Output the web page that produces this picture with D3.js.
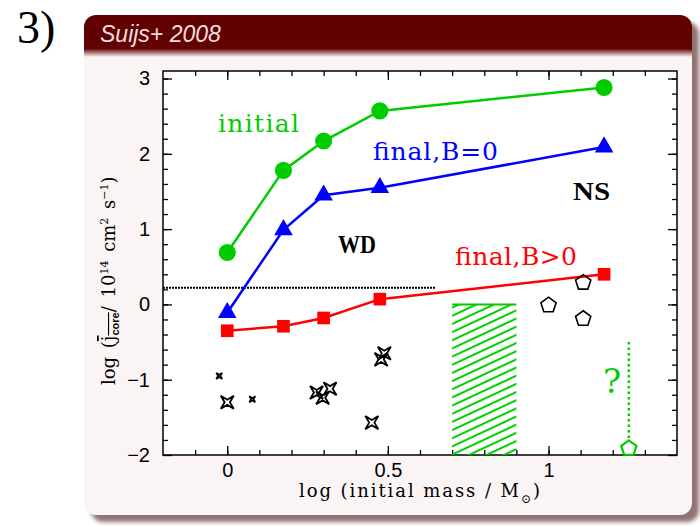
<!DOCTYPE html>
<html>
<head>
<meta charset="utf-8">
<script src="https://cdn.jsdelivr.net/npm/d3@7/dist/d3.min.js"></script>
<style>
  html, body { margin: 0; padding: 0; background: #fff; }
  svg { display: block; }
</style>
</head>
<body>
<div id="chart"></div>
<script>
///// DATA
const MASS       = [0, 0.175, 0.30, 0.475, 1.173];     // log initial mass
const J_INITIAL  = [0.69, 1.78, 2.17, 2.57, 2.88];     // green circles
const J_FINAL_B0 = [-0.11, 0.99, 1.45, 1.55, 2.09];    // blue triangles
const J_FINAL_B  = [-0.35, -0.29, -0.18, 0.07, 0.40];  // red squares

// white dwarf spins (4-point stars)
const WD_BIG   = [[0, -1.30], [0.278, -1.17], [0.297, -1.24], [0.32, -1.12],
                  [0.45, -1.57], [0.479, -0.73], [0.489, -0.65]];
const WD_SMALL = [[-0.025, -0.95], [0.078, -1.26]];

// neutron star pulsars (pentagons)
const NS_PTS   = [[1.0, 0.0], [1.108, -0.18], [1.108, 0.30]];
const NS_GREEN = [1.25, -1.90];
const NS_UPPER = -0.50;              // top of the dotted "?" line

const HATCH_X  = [0.70, 0.90];       // hatched range, y from bottom to 0
const HATCH_Y  = [-2, 0];
const DOTTED   = { y: 0.22, x: [-0.2, 0.65] };

const X_TICKS = [0, 0.5, 1];
const Y_TICKS = [-2, -1, 0, 1, 2, 3];

///// LAYOUT
const W = 700, H = 527;
const box = { l: 163, r: 677, t: 71, b: 455 };
const GREEN = '#00cc00', BLUE = '#0000ff', RED = '#ff0000';

const svg = d3.select('#chart').append('svg')
  .attr('width', W).attr('height', H)
  .attr('viewBox', [0, 0, W, H]);

const defs = svg.append('defs');
defs.append('filter').attr('id', 'blur')
  .attr('x', '-5%').attr('y', '-5%').attr('width', '110%').attr('height', '110%')
  .append('feGaussianBlur').attr('stdDeviation', 2);

const hg = defs.append('linearGradient').attr('id', 'hdr')
  .attr('x1', 0).attr('x2', 0).attr('y1', 0).attr('y2', 1);
hg.append('stop').attr('offset', '0%').attr('stop-color', '#600000');
hg.append('stop').attr('offset', '80%').attr('stop-color', '#620202');
hg.append('stop').attr('offset', '100%').attr('stop-color', '#fbf4f4');

defs.append('clipPath').attr('id', 'panelClip')
  .append('rect').attr('x', 84).attr('y', 15).attr('width', 608).attr('height', 500).attr('rx', 12);

const pat = defs.append('pattern').attr('id', 'hatch')
  .attr('patternUnits', 'userSpaceOnUse')
  .attr('width', 20).attr('height', 7.4)
  .attr('patternTransform', 'rotate(-25)');
pat.append('line').attr('x1', 0).attr('x2', 20).attr('y1', 3.7).attr('y2', 3.7)
  .attr('stroke', GREEN).attr('stroke-width', 2);

///// PANEL
svg.append('rect').attr('x', 91).attr('y', 22).attr('width', 608).attr('height', 500)
  .attr('rx', 12).attr('fill', '#7d5a5a').attr('opacity', 0.85).attr('filter', 'url(#blur)');
svg.append('rect').attr('x', 84).attr('y', 15).attr('width', 608).attr('height', 500)
  .attr('rx', 12).attr('fill', '#fbf4f4');
svg.append('rect').attr('x', 84).attr('y', 15).attr('width', 608).attr('height', 42)
  .attr('fill', 'url(#hdr)').attr('clip-path', 'url(#panelClip)');

svg.append('text').attr('x', 100).attr('y', 42)
  .attr('font-family', 'Liberation Sans, Arial, sans-serif')
  .attr('font-style', 'italic').attr('font-size', 23)
  .attr('fill', '#f3dede').text('Suijs+ 2008');

svg.append('text').attr('x', 17).attr('y', 43)
  .attr('font-family', 'Liberation Serif, Times New Roman, serif')
  .attr('font-size', 46).attr('fill', '#000').text('3)');

///// SCALES
const x = d3.scaleLinear([-0.2, 1.4], [box.l, box.r]);
const y = d3.scaleLinear([-2, 3.1], [box.b, box.t]);

svg.append('rect').attr('x', box.l).attr('y', box.t)
  .attr('width', box.r - box.l).attr('height', box.b - box.t).attr('fill', '#fff');

///// AXES (ticks inward on all sides)
const minorX = d3.range(-0.1, 1.35, 0.1).map(v => +v.toFixed(2));
const minorY = d3.range(-1.8, 3.05, 0.2).map(v => +v.toFixed(2));
const tickFont = 'Liberation Sans, Arial, sans-serif';

function axis (gen, tf, vals, size, labels) {
  const a = gen.tickValues(vals).tickSize(-size)
    .tickFormat(labels ? labels : () => '');
  const g = svg.append('g').attr('transform', tf).call(a);
  g.select('.domain').remove();
  g.selectAll('line').attr('stroke', '#000').attr('stroke-width', 1.3);
  return g;
}

const gx = axis(d3.axisBottom(x).tickPadding(8), `translate(0,${box.b})`, X_TICKS, 9, d => String(d));
axis(d3.axisBottom(x), `translate(0,${box.b})`, minorX, 5);
axis(d3.axisTop(x), `translate(0,${box.t})`, X_TICKS, 9);
axis(d3.axisTop(x), `translate(0,${box.t})`, minorX, 5);

const gy = axis(d3.axisLeft(y).tickPadding(13), `translate(${box.l},0)`, Y_TICKS, 9,
  d => d < 0 ? '\u2212' + Math.abs(d) : String(d));
axis(d3.axisLeft(y), `translate(${box.l},0)`, minorY, 5);
axis(d3.axisRight(y), `translate(${box.r},0)`, Y_TICKS, 9);
axis(d3.axisRight(y), `translate(${box.r},0)`, minorY, 5);

[gx, gy].forEach(g => g.selectAll('text')
  .attr('font-family', tickFont).attr('font-size', 20).attr('fill', '#000'));

svg.append('rect').attr('x', box.l).attr('y', box.t)
  .attr('width', box.r - box.l).attr('height', box.b - box.t)
  .attr('fill', 'none').attr('stroke', '#000').attr('stroke-width', 1.5);

///// AXIS TITLES
const serif = 'DejaVu Serif, serif';
const xt = svg.append('text').attr('x', 299).attr('y', 497)
  .attr('font-family', serif).attr('font-size', 18).attr('fill', '#000')
  .attr('textLength', 241).attr('lengthAdjust', 'spacing');
xt.append('tspan').text('log (initial mass / M');
xt.append('tspan').attr('font-size', 12).attr('dy', 6).text('\u2299');
xt.append('tspan').attr('dy', -6).text(')');

const yt = svg.append('text')
  .attr('transform', 'translate(115,385) rotate(-90)')
  .attr('font-family', serif).attr('font-size', 18).attr('fill', '#000')
  .attr('word-spacing', 3);
yt.append('tspan').text('log (');
yt.append('tspan').style('text-decoration', 'overline').text('j');
yt.append('tspan').attr('font-family', 'Liberation Sans, Arial, sans-serif')
  .attr('font-weight', 'bold').attr('font-size', 11).attr('dy', 4)
  .style('text-decoration', 'overline').text('core');
yt.append('tspan').attr('dy', -4).text('/ 10');
yt.append('tspan').attr('font-size', 11).attr('dy', -7).text('14');
yt.append('tspan').attr('dy', 7).text(' cm');
yt.append('tspan').attr('font-size', 11).attr('dy', -7).text('2');
yt.append('tspan').attr('dy', 7).text(' s');
yt.append('tspan').attr('font-size', 11).attr('dy', -7).text('\u22121');
yt.append('tspan').attr('dy', 7).text(')');

///// HATCHED REGION
svg.append('rect')
  .attr('x', x(HATCH_X[0])).attr('y', y(HATCH_Y[1]))
  .attr('width', x(HATCH_X[1]) - x(HATCH_X[0]))
  .attr('height', y(HATCH_Y[0]) - y(HATCH_Y[1]))
  .attr('fill', 'url(#hatch)');
svg.append('line')
  .attr('x1', x(HATCH_X[0])).attr('x2', x(HATCH_X[1]))
  .attr('y1', y(HATCH_Y[1])).attr('y2', y(HATCH_Y[1]))
  .attr('stroke', GREEN).attr('stroke-width', 2);

///// DOTTED THRESHOLD
svg.append('line')
  .attr('x1', x(DOTTED.x[0])).attr('x2', x(DOTTED.x[1]))
  .attr('y1', y(DOTTED.y)).attr('y2', y(DOTTED.y))
  .attr('stroke', '#000').attr('stroke-width', 2).attr('stroke-dasharray', '2,1');

///// SERIES
const line = d3.line().x(d => x(d[0])).y(d => y(d[1]));
const series = [
  { vals: J_INITIAL,  color: GREEN, sym: d3.symbolCircle,   size: 230 },
  { vals: J_FINAL_B0, color: BLUE,  sym: d3.symbolTriangle, size: 150 },
  { vals: J_FINAL_B,  color: RED,   sym: d3.symbolSquare,   size: 160 }
];

series.forEach(s => {
  const pts = MASS.map((m, i) => [m, s.vals[i]]);
  svg.append('path').attr('d', line(pts))
     .attr('fill', 'none').attr('stroke', s.color).attr('stroke-width', 2.5);
  svg.append('g').selectAll('path').data(pts).join('path')
     .attr('transform', d => `translate(${x(d[0])},${y(d[1])})`)
     .attr('d', d3.symbol(s.sym, s.size))
     .attr('fill', s.color);
});

///// WD STARS
function star (r) {
  const k = r * 0.4;
  return `M${-r},${-r}L0,${-k}L${r},${-r}L${k},0L${r},${r}L0,${k}L${-r},${r}L${-k},0Z`;
}
svg.append('g').selectAll('path').data(WD_BIG).join('path')
  .attr('transform', d => `translate(${x(d[0])},${y(d[1])})`)
  .attr('d', star(6.5)).attr('fill', 'none').attr('stroke', '#000').attr('stroke-width', 1.8);
svg.append('g').selectAll('path').data(WD_SMALL).join('path')
  .attr('transform', d => `translate(${x(d[0])},${y(d[1])})`)
  .attr('d', star(3)).attr('fill', 'none').attr('stroke', '#000').attr('stroke-width', 1.6);

///// NS PENTAGONS
function pentagon (r) {
  return d3.range(5).map(i => {
    const a = -Math.PI / 2 + i * 2 * Math.PI / 5;
    return [r * Math.cos(a), r * Math.sin(a) + r * 0.1];
  });
}
const pent = d3.line().curve(d3.curveLinearClosed);
svg.append('g').selectAll('path').data(NS_PTS).join('path')
  .attr('transform', d => `translate(${x(d[0])},${y(d[1])})`)
  .attr('d', pent(pentagon(8))).attr('fill', 'none')
  .attr('stroke', '#000').attr('stroke-width', 1.6);

svg.append('line')
  .attr('x1', x(NS_GREEN[0])).attr('x2', x(NS_GREEN[0]))
  .attr('y1', y(NS_UPPER)).attr('y2', y(NS_GREEN[1]) - 8)
  .attr('stroke', GREEN).attr('stroke-width', 2.5).attr('stroke-dasharray', '2.5,3');
svg.append('path')
  .attr('transform', `translate(${x(NS_GREEN[0])},${y(NS_GREEN[1])})`)
  .attr('d', pent(pentagon(8))).attr('fill', 'none')
  .attr('stroke', GREEN).attr('stroke-width', 2.2);
svg.append('text').attr('x', 612).attr('y', 393).attr('text-anchor', 'middle')
  .attr('font-family', serif).attr('font-size', 34).attr('fill', GREEN).text('?');

///// LABELS
const boldSerif = 'Liberation Serif, Times New Roman, serif';
const labels = [
  { t: 'initial',   x: 218, y: 132, w: 81,  c: GREEN, bold: false, fs: 25 },
  { t: 'final,B=0', x: 373, y: 160, w: 125, c: BLUE,  bold: false, fs: 25 },
  { t: 'final,B>0', x: 455, y: 265, w: 122, c: RED,   bold: false, fs: 25 },
  { t: 'WD',        x: 338, y: 253, w: 38,  c: '#000', bold: true, fs: 25 },
  { t: 'NS',        x: 573, y: 200, w: 37,  c: '#000', bold: true, fs: 25 }
];
svg.append('g').selectAll('text').data(labels).join('text')
  .attr('x', d => d.x).attr('y', d => d.y)
  .attr('font-family', d => d.bold ? boldSerif : serif).attr('font-size', d => d.fs)
  .attr('font-weight', d => d.bold ? 'bold' : 'normal')
  .attr('fill', d => d.c)
  .attr('textLength', d => d.w)
  .attr('lengthAdjust', d => d.bold ? 'spacingAndGlyphs' : 'spacing')
  .text(d => d.t);
</script>
</body>
</html>
